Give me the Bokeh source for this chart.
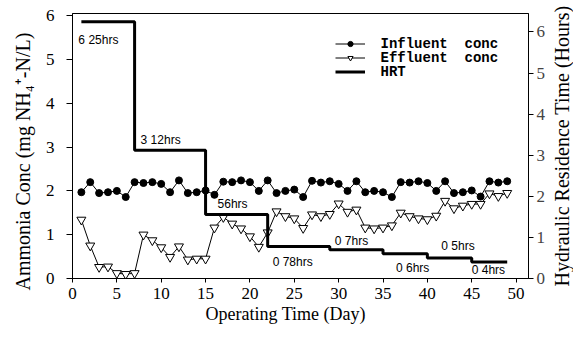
from bokeh.plotting import figure
from bokeh.layouts import row
from bokeh.models import Range1d, LinearAxis, FixedTicker, Legend, LegendItem, Label, Title
from bokeh.embed import file_html
from bokeh.resources import INLINE

# ---- data ----
days = list(range(1, 50))
influent = [1.97, 2.20, 1.95, 1.97, 2.00, 1.86, 2.20, 2.18, 2.20, 2.16,
            1.97, 2.24, 1.95, 1.97, 2.01, 1.91, 2.21, 2.20, 2.24, 2.20,
            2.00, 2.24, 1.95, 2.00, 2.03, 1.86, 2.23, 2.19, 2.22, 2.16,
            2.00, 2.22, 1.97, 2.00, 1.97, 1.86, 2.20, 2.19, 2.22, 2.18,
            2.00, 2.22, 1.95, 1.97, 2.01, 1.87, 2.22, 2.19, 2.22]
effluent = [1.34, 0.75, 0.26, 0.27, 0.12, 0.10, 0.12, 1.00, 0.87, 0.71,
            0.49, 0.73, 0.43, 0.45, 0.45, 1.16, 1.40, 1.25, 1.14, 0.96,
            0.72, 1.05, 1.53, 1.42, 1.37, 1.15, 1.46, 1.42, 1.47, 1.71,
            1.52, 1.57, 1.16, 1.14, 1.16, 1.21, 1.50, 1.42, 1.37, 1.35,
            1.43, 1.77, 1.60, 1.66, 1.70, 1.70, 1.94, 1.88, 1.95]
hrt_start = [1, 7, 15, 22, 29, 35, 40, 45]
hrt_end = 49
hrt_values = [6.25, 3.12, 1.56, 0.78, 0.70, 0.60, 0.50, 0.40]
hrt_labels = ["6 25hrs", "3 12hrs", "56hrs", "0 78hrs", "0 7hrs", "0 6hrs", "0 5hrs", "0 4hrs"]
x_ticks = [0, 5, 10, 15, 20, 25, 30, 35, 40, 45, 50]
left_ticks = [0, 1, 2, 3, 4, 5, 6]
right_ticks = [0, 1, 2, 3, 4, 5, 6]
legend_names = ["Influent \u00a0conc", "Effluent \u00a0conc", "HRT"]
x_title = "Operating Time (Day)"
left_title = "Ammonia Conc (mg NH\u2084\u207a-N/L)"
right_title = "Hydraulic Residence Time (Hours)"

# label placement (px offsets from segment start)
label_offsets = [(-3, -18), (6, 10), (12, 10), (5, -16), (5, 9), (13, -14), (14, 12), (0, -8)]

SERIF = "Liberation Serif"

p = figure(width=548, height=328, x_range=Range1d(0, 51.4), y_range=Range1d(0, 6.05),
           output_backend="svg", toolbar_location=None,
           min_border_left=72, min_border_right=17, min_border_top=13, min_border_bottom=50)
p.extra_y_ranges = {"hrt": Range1d(0, 6.45)}
p.grid.visible = False
p.outline_line_color = "black"
p.outline_line_width = 1
p.background_fill_color = "white"
p.border_fill_color = "white"

for ax in [p.xaxis[0], p.yaxis[0]]:
    ax.axis_line_color = "black"
    ax.axis_line_width = 1
    ax.major_tick_line_color = "black"
    ax.minor_tick_line_color = None
    ax.major_tick_in = 0
    ax.major_label_text_font = SERIF
    ax.major_label_text_font_size = "17px"
    ax.major_label_text_color = "black"

p.xaxis.ticker = FixedTicker(ticks=x_ticks)
p.xaxis.major_tick_out = 4
p.xaxis.major_label_standoff = 5

p.yaxis.ticker = FixedTicker(ticks=left_ticks)
p.yaxis.major_tick_out = 6
p.yaxis.major_label_standoff = 12
p.yaxis.major_label_orientation = "horizontal"

ry = LinearAxis(y_range_name="hrt", ticker=FixedTicker(ticks=right_ticks))
ry.axis_line_color = "black"
ry.major_tick_line_color = "black"
ry.minor_tick_line_color = None
ry.major_tick_in = 0
ry.major_tick_out = 5
ry.major_label_standoff = 3
ry.major_label_orientation = "horizontal"
ry.major_label_text_font = SERIF
ry.major_label_text_font_size = "17px"
p.add_layout(ry, "right")

# axis titles as side-panel titles
p.add_layout(Title(text=x_title, align="left", offset=133, standoff=0,
                   text_font=SERIF, text_font_size="18px", text_font_style="normal",
                   text_color="black"), "below")
p.add_layout(Title(text=left_title, align="left", offset=-12, standoff=17,
                   text_font=SERIF, text_font_size="20px", text_font_style="normal",
                   text_color="black"), "left")

# series
l_in = p.line(days, influent, line_color="black", line_width=1)
s_in = p.scatter(days, influent, marker="circle", size=7, fill_color="black", line_color="black")
l_ef = p.line(days, effluent, line_color="black", line_width=1)
s_ef = p.scatter(days, effluent, marker="inverted_triangle", size=9, fill_color="white",
                 line_color="black", line_width=1)
step_x = hrt_start + [hrt_end]
step_y = hrt_values + [hrt_values[-1]]
l_hrt = p.step(step_x, step_y, mode="after", line_color="black", line_width=3, y_range_name="hrt")

for xs, v, txt, (dx, dy) in zip(hrt_start, hrt_values, hrt_labels, label_offsets):
    p.add_layout(Label(x=xs, y=v, y_range_name="hrt", text=txt, x_offset=dx, y_offset=dy,
                       text_font="Liberation Sans", text_font_size="12px",
                       text_baseline="middle", text_align="left", text_color="black"))

# legend: glyph samples from Legend, names drawn as labels for tight row spacing
legend = Legend(items=[
    LegendItem(label=" ", renderers=[l_in, s_in]),
    LegendItem(label=" ", renderers=[l_ef, s_ef]),
    LegendItem(label=" ", renderers=[l_hrt]),
], location=(263, 200))
legend.border_line_color = None
legend.background_fill_alpha = 0
legend.padding = 0
legend.margin = 0
legend.spacing = 1
legend.glyph_width = 30
legend.glyph_height = 13
legend.label_height = 13
legend.label_width = 1
legend.label_standoff = 0
legend.label_text_font_size = "6px"
p.add_layout(legend)

row_h = 14
for i, name in enumerate(legend_names):
    p.add_layout(Label(x=308, y=234.7 - i * row_h, x_units="screen", y_units="screen", text=name,
                       text_font="Liberation Mono", text_font_style="bold", text_font_size="14px",
                       text_baseline="middle", text_align="left", text_color="black"))

# right-hand title strip: a bare left axis whose label reads bottom-to-top like the reference
p2 = figure(width=24, height=328, x_range=Range1d(0, 1), y_range=Range1d(0, 1),
            output_backend="svg", toolbar_location=None,
            x_axis_location=None, y_axis_location="left", min_border=0)
p2.grid.visible = False
p2.outline_line_color = None
p2.background_fill_color = "white"
p2.border_fill_color = "white"
p2.yaxis.ticker = FixedTicker(ticks=[])
p2.yaxis.axis_line_color = None
p2.yaxis.major_tick_line_color = None
p2.yaxis.minor_tick_line_color = None
p2.yaxis.major_label_text_font_size = "0px"
p2.yaxis.axis_label = right_title
p2.yaxis.axis_label_standoff = 0
p2.yaxis.axis_label_text_font = SERIF
p2.yaxis.axis_label_text_font_size = "20px"
p2.yaxis.axis_label_text_font_style = "normal"
p2.yaxis.axis_label_text_color = "black"

layout = row(p, p2, spacing=0)
open("out.html", "w").write(file_html(layout, INLINE))
